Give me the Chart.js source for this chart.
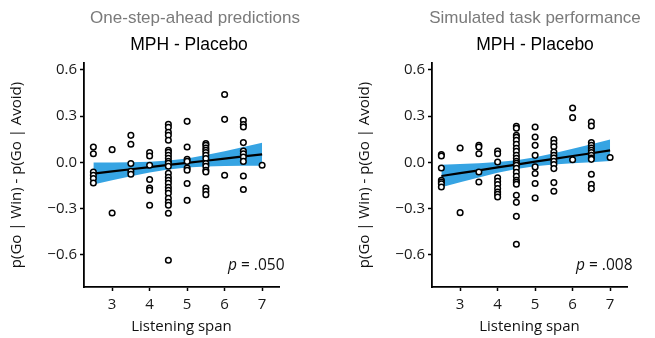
<!DOCTYPE html>
<html><head><meta charset="utf-8">
<script src="https://cdn.jsdelivr.net/npm/chart.js@4"></script>
<style>
body{margin:0;width:655px;height:338px;background:#fff;overflow:hidden;position:relative}
.p{position:absolute;top:0;height:338px}
</style>
</head><body>
<div class="p" style="left:0;width:330px"><canvas id="c1" width="330" height="338"></canvas></div>
<div class="p" style="left:330px;width:325px"><canvas id="c2" width="325" height="338"></canvas></div>
<script>
// ---- data ----
const xTickValues = [3, 4, 5, 6, 7];
const yTickValues = [-0.6, -0.3, 0, 0.3, 0.6];

// Left panel: One-step-ahead predictions
const osaSpan = [
  2.5,2.5,2.5,2.5,2.5,2.5,
  3,3,
  3.5,3.5,3.5,3.5,3.5,
  4,4,4,4,4,4,4,
  4.5,4.5,4.5,4.5,4.5,4.5,4.5,4.5,4.5,4.5,4.5,4.5,4.5,4.5,4.5,4.5,4.5,4.5,4.5,4.5,4.5,4.5,4.5,4.5,
  5,5,5,5,5,5,5,5,
  5.5,5.5,5.5,5.5,5.5,5.5,5.5,5.5,5.5,5.5,5.5,5.5,5.5,5.5,
  6,6,6,
  6.5,6.5,6.5,6.5,6.5,6.5,6.5,6.5,6.5,6.5,
  7
];
const osaDiff = [
  0.099,0.056,-0.063,-0.084,-0.106,-0.134,
  0.082,-0.329,
  0.175,0.117,-0.008,-0.058,-0.078,
  0.063,0.041,-0.019,-0.112,-0.167,-0.182,-0.279,
  0.247,0.227,0.195,0.175,0.143,0.078,0.065,0.045,0.026,0.006,-0.006,-0.026,-0.071,-0.097,-0.117,-0.136,-0.162,-0.182,-0.201,-0.234,-0.260,-0.279,-0.331,-0.636,
  0.266,0.099,0.019,0.006,-0.037,-0.052,-0.138,-0.247,
  0.121,0.110,0.093,0.078,0.063,0.045,0.024,-0.008,-0.026,-0.052,-0.063,-0.167,-0.188,-0.210,
  0.440,0.279,-0.084,
  0.273,0.245,0.229,0.128,0.073,0.056,0.034,0.006,-0.089,-0.177,
  -0.019
];
const fitSpan  = [2.5, 3, 3.5, 4, 4.5, 5, 5.5, 6, 6.5, 7];
const osaFit   = [-0.073,-0.059,-0.045,-0.031,-0.017,-0.004,0.010,0.024,0.038,0.052];
const osaUpper = [-0.001,-0.001,0.001,0.004,0.012,0.025,0.047,0.072,0.099,0.127];
const osaLower = [-0.145,-0.117,-0.091,-0.066,-0.046,-0.033,-0.027,-0.024,-0.023,-0.023];

// Right panel: Simulated task performance
const simSpan = [
  2.5,2.5,2.5,2.5,2.5,2.5,2.5,
  3,3,
  3.5,3.5,3.5,3.5,3.5,
  4,4,4,4,4,4,4,4,4,4,
  4.5,4.5,4.5,4.5,4.5,4.5,4.5,4.5,4.5,4.5,4.5,4.5,4.5,4.5,4.5,4.5,4.5,4.5,4.5,4.5,4.5,4.5,4.5,
  5,5,5,5,5,5,5,5,
  5.5,5.5,5.5,5.5,5.5,5.5,5.5,5.5,5.5,5.5,5.5,
  6,6,6,
  6.5,6.5,6.5,6.5,6.5,6.5,6.5,6.5,6.5,6.5,6.5,6.5,6.5,
  7
];
const simDiff = [
  0.050,0.041,-0.037,-0.117,-0.128,-0.139,-0.160,
  0.093,-0.327,
  0.110,0.099,0.056,-0.063,-0.128,
  0.073,0.056,0.002,-0.100,-0.123,-0.145,-0.171,-0.193,-0.208,-0.225,
  0.234,0.221,0.175,0.162,0.143,0.117,0.091,0.071,0.045,0.026,0.006,-0.006,-0.019,-0.039,-0.065,-0.091,-0.117,-0.130,-0.143,-0.214,-0.260,-0.351,-0.532,
  0.229,0.164,0.110,0.045,-0.030,-0.073,-0.138,-0.232,
  0.147,0.123,0.101,0.067,0.045,0.028,0.006,-0.015,-0.041,-0.132,-0.188,
  0.353,0.290,0.017,
  0.262,0.236,0.128,0.110,0.093,0.078,0.063,0.045,0.028,0.019,-0.078,-0.143,-0.171,
  0.031
];
const simFit   = [-0.089,-0.070,-0.052,-0.033,-0.015,0.004,0.022,0.041,0.059,0.078];
const simUpper = [-0.016,-0.011,-0.006,0.002,0.014,0.033,0.058,0.088,0.117,0.148];
const simLower = [-0.162,-0.129,-0.098,-0.068,-0.044,-0.025,-0.014,-0.006,0.001,0.008];

const panelTitles = ['One-step-ahead predictions', 'Simulated task performance'];
const panelSubtitle = 'MPH - Placebo';
const pLabels = ['.050', '.008'];
const xTitle = 'Listening span';
const yTitle = 'p(Go | Win) - p(Go | Avoid)';

// ---- drawing ----
const SANS = '"Open Sans", sans-serif';
const BAND = '#36A4E3';

const panelText = {
  id: 'panelText',
  afterDraw(chart, args, o) {
    const ctx = chart.ctx, a = chart.chartArea;
    ctx.save();
    ctx.textBaseline = 'alphabetic';
    ctx.textAlign = 'center';
    ctx.fillStyle = '#7a7a7a';
    ctx.font = '17px "Liberation Sans", Arial, sans-serif';
    ctx.fillText(o.title, o.titleX, 22.5);
    ctx.fillStyle = '#000';
    ctx.font = '17.5px "Liberation Sans", Arial, sans-serif';
    ctx.fillText(o.subtitle, o.subX, 50);
    // p value
    ctx.textAlign = 'left';
    ctx.fillStyle = '#111';
    let x = a.right - 51;
    const y = a.bottom - 17.5;
    ctx.font = 'italic 15.5px ' + SANS;
    ctx.fillText('p', x, y);
    x += ctx.measureText('p').width;
    ctx.font = '15.5px ' + SANS;
    ctx.fillText(' = ' + o.p, x, y);
    ctx.restore();
  }
};

function fmtY(v) {
  const s = Math.abs(v).toFixed(1);
  return v < -1e-9 ? '\u2212' + s : s;
}

function makePanel(id, span, diff, fit, upper, lower, opts) {
  const pts = span.map((x, i) => ({x, y: diff[i]}));
  const fitPts = fitSpan.map((x, i) => ({x, y: fit[i]}));
  const upPts = fitSpan.map((x, i) => ({x, y: upper[i]}));
  const loPts = fitSpan.map((x, i) => ({x, y: lower[i]}));
  new Chart(document.getElementById(id), {
    type: 'scatter',
    data: {
      datasets: [
        {data: pts, pointRadius: 2.8, pointBorderWidth: 1.5, pointBackgroundColor: '#fff',
         pointBorderColor: '#000', showLine: false},
        {data: fitPts, showLine: true, borderColor: '#000', borderWidth: 2.2, pointRadius: 0, fill: false},
        {data: upPts, showLine: true, borderWidth: 0, borderColor: 'rgba(0,0,0,0)', pointRadius: 0,
         fill: '+1', backgroundColor: BAND},
        {data: loPts, showLine: true, borderWidth: 0, borderColor: 'rgba(0,0,0,0)', pointRadius: 0, fill: false}
      ]
    },
    options: {
      responsive: false,
      animation: false,
      layout: {padding: {left: 0, top: 63, right: opts.padRight, bottom: 0}},
      plugins: {
        legend: {display: false},
        tooltip: {enabled: false},
        panelText: {title: opts.title, subtitle: panelSubtitle, p: opts.p, titleX: opts.titleX, subX: opts.subX}
      },
      scales: {
        x: {
          type: 'linear', min: 2.25, max: 7.45,
          afterBuildTicks: s => { s.ticks = xTickValues.map(v => ({value: v})); },
          afterFit: s => { s.height = 51; },
          ticks: {font: {family: SANS, size: 15}, color: '#1a1a1a', padding: 5, callback: v => String(v)},
          grid: {display: true, drawOnChartArea: false, drawTicks: true, tickLength: 4, tickColor: '#000', tickWidth: 1.5},
          border: {display: true, color: '#000', width: 1.8},
          title: {display: true, text: xTitle, font: {family: SANS, size: 15}, color: '#111', padding: {top: 0, bottom: 2}}
        },
        y: {
          type: 'linear', min: -0.81, max: 0.645,
          afterBuildTicks: s => { s.ticks = yTickValues.map(v => ({value: v})); },
          afterFit: s => { s.width = opts.yWidth; },
          ticks: {font: {family: SANS, size: 15}, color: '#1a1a1a', padding: 3, callback: v => fmtY(v)},
          grid: {display: true, drawOnChartArea: false, drawTicks: true, tickLength: 4, tickColor: '#000', tickWidth: 1.5},
          border: {display: true, color: '#000', width: 1.8},
          title: {display: true, text: yTitle, font: {family: SANS, size: 15}, color: '#111', padding: {top: opts.yTitlePad, bottom: 0}}
        }
      }
    },
    plugins: [panelText]
  });
}

makePanel('c1', osaSpan, osaDiff, osaFit, osaUpper, osaLower,
  {padRight: 51, yWidth: 84, yTitlePad: 8, title: panelTitles[0], p: pLabels[0], titleX: 195, subX: 189});
makePanel('c2', simSpan, simDiff, simFit, simUpper, simLower,
  {padRight: 28, yWidth: 102, yTitlePad: 26, title: panelTitles[1], p: pLabels[1], titleX: 205, subX: 205});
</script>
</body></html>
